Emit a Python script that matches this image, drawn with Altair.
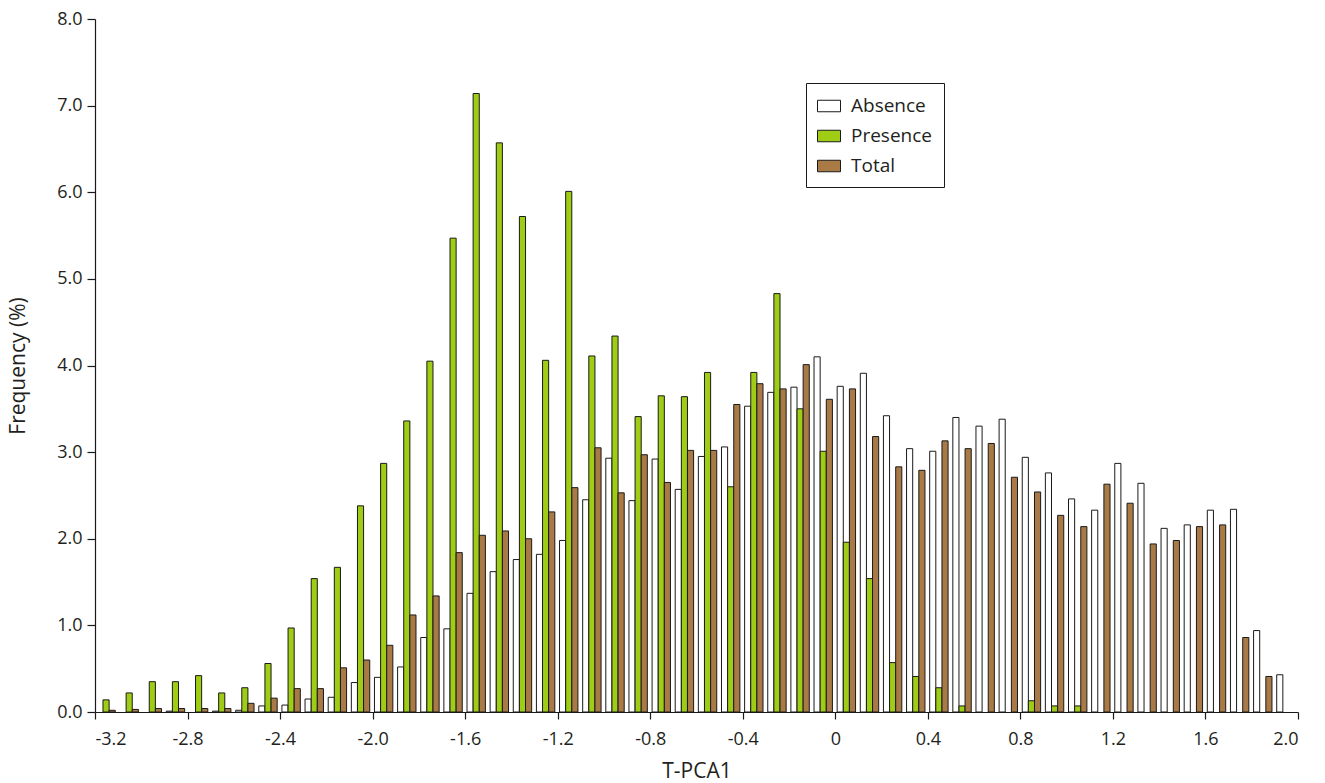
import altair as alt
import pandas as pd

# Bin left edges (bin width 0.1)
bins = [round(-3.2 + 0.1 * i, 1) for i in range(52)]

absence = [0, 0, 0, 0.01, 0, 0.01, 0.02, 0.07, 0.08, 0.15, 0.17,
           0.34, 0.40, 0.52, 0.86, 0.96, 1.37, 1.62, 1.76, 1.82, 1.98,
           2.45, 2.93, 2.44, 2.92, 2.57, 2.95, 3.06, 3.53, 3.69, 3.75, 4.10,
           3.76, 3.91, 3.42, 3.04, 3.01, 3.40, 3.30, 3.38, 2.94, 2.76,
           2.46, 2.33, 2.87, 2.64, 2.12, 2.16, 2.33, 2.34, 0.94, 0.43]

presence = [0.14, 0.22, 0.35, 0.35, 0.42, 0.22, 0.28, 0.56, 0.97, 1.54, 1.67,
            2.38, 2.87, 3.36, 4.05, 5.47, 7.14, 6.57, 5.72, 4.06, 6.01,
            4.11, 4.34, 3.41, 3.65, 3.64, 3.92, 2.60, 3.92, 4.83, 3.50, 3.01,
            1.96, 1.54, 0.57, 0.41, 0.28, 0.07, 0, 0, 0.13, 0.07,
            0.07, 0, 0, 0, 0, 0, 0, 0, 0, 0]

total = [0.02, 0.03, 0.04, 0.04, 0.04, 0.04, 0.10, 0.16, 0.27, 0.27, 0.51,
         0.60, 0.77, 1.12, 1.34, 1.84, 2.04, 2.09, 2.00, 2.31, 2.59,
         3.05, 2.53, 2.97, 2.65, 3.02, 3.02, 3.55, 3.79, 3.73, 4.01, 3.61,
         3.73, 3.18, 2.83, 2.79, 3.13, 3.04, 3.10, 2.71, 2.54, 2.27,
         2.14, 2.63, 2.41, 1.94, 1.98, 2.14, 2.16, 0.86, 0.41, 0]

series_names = ["Absence", "Presence", "Total"]
series_colors = ["#FFFFFF", "#9FCC14", "#A97A45"]
x_ticks = [-3.2, -2.8, -2.4, -2.0, -1.6, -1.2, -0.8, -0.4, 0, 0.4, 0.8, 1.2, 1.6, 2.0]
y_ticks = [0, 1, 2, 3, 4, 5, 6, 7, 8]

rows = []
for name, vals in zip(series_names, [absence, presence, total]):
    for b, v in zip(bins, vals):
        if v > 0:
            rows.append({"bin": b, "series": name, "freq": v})
df = pd.DataFrame(rows)

FONT = "Open Sans"
TXT = "#231F20"

chart = alt.Chart(df).transform_calculate(
    idx="indexof(['Absence','Presence','Total'], datum.series)"
).transform_calculate(
    x0="datum.bin + 0.008 + datum.idx * 0.0265",
    x1="datum.bin + 0.008 + (datum.idx + 1) * 0.0265",
).mark_bar(stroke="#1a1a1a", strokeWidth=1).encode(
    x=alt.X("x0:Q",
            scale=alt.Scale(domain=[-3.2, 2.0], nice=False, zero=False),
            axis=alt.Axis(title="T-PCA1", values=x_ticks,
                          labelExpr="abs(datum.value) < 1e-9 ? '0' : (datum.value < 0 ? '-' : '') + format(abs(datum.value), '.1f')",
                          grid=False, tickSize=7, labelPadding=11, titlePadding=12)),
    x2="x1:Q",
    y=alt.Y("freq:Q",
            scale=alt.Scale(domain=[0, 8], nice=False),
            axis=alt.Axis(title="Frequency (%)", values=y_ticks, format=".1f",
                          grid=False, tickSize=8, labelPadding=5, titlePadding=28)),
    y2=alt.datum(0),
    fill=alt.Fill("series:N",
                  scale=alt.Scale(domain=series_names, range=series_colors),
                  legend=alt.Legend(title=None, orient="none", legendX=711, legendY=64,
                                    symbolType="M-1,-0.5H1V0.5H-1Z", symbolSize=529,
                                    symbolStrokeColor="#1a1a1a", symbolStrokeWidth=1,
                                    labelFontSize=19, labelFont=FONT, labelColor=TXT,
                                    labelOffset=10, rowPadding=8, padding=11,
                                    strokeColor="#1a1a1a", fillColor="white")),
).properties(
    width=1203, height=693,
    autosize=alt.AutoSizeParams(type="none"),
    padding={"left": 95, "top": 19, "right": 27, "bottom": 71},
).configure_axis(
    domainColor="#1a1a1a", tickColor="#1a1a1a", domainWidth=1.2, tickWidth=1.2,
    labelFont=FONT, labelFontSize=18, labelColor=TXT,
    titleFont=FONT, titleFontSize=21, titleColor=TXT, titleFontWeight="normal",
).configure_view(stroke=None)

chart.save("out.html", embed_options={"renderer": "svg", "actions": False})
